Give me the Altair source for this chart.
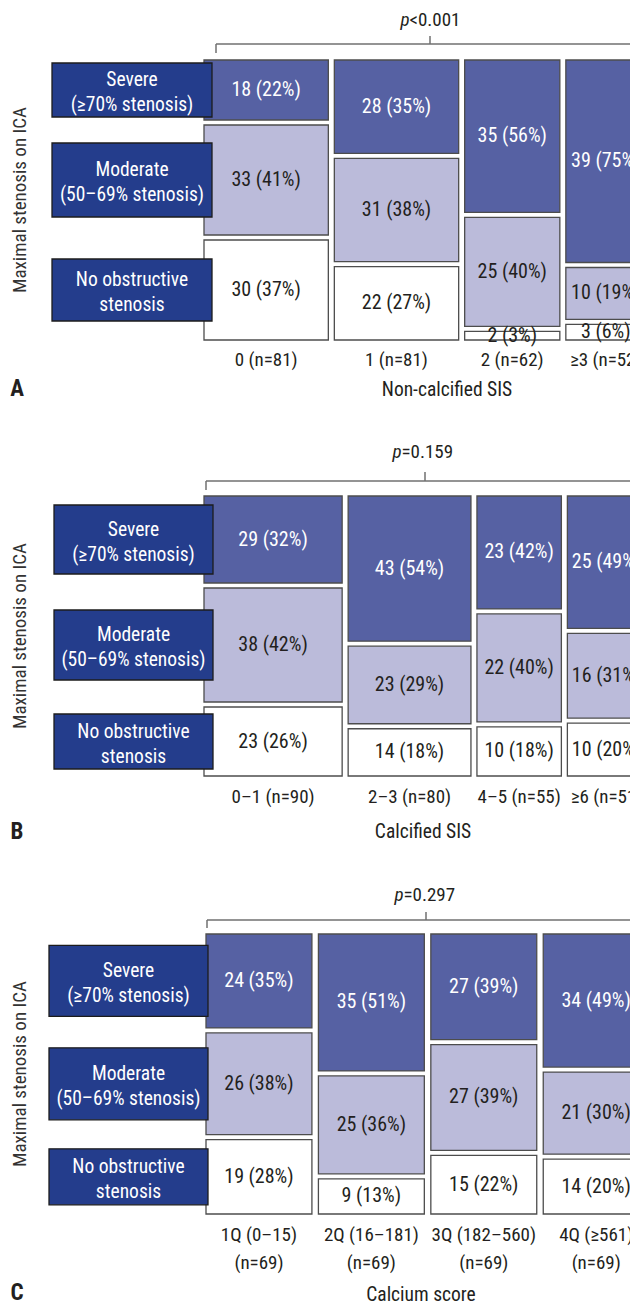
import altair as alt
import pandas as pd

# ---------------- data ----------------
levels = ["Severe", "Moderate", "None"]
level_labels = ["Severe\n(≥70% stenosis)", "Moderate\n(50–69% stenosis)", "No obstructive\nstenosis"]
y_title = "Maximal stenosis on ICA"

a_groups = ["0 (n=81)", "1 (n=81)", "2 (n=62)", "≥3 (n=52)"]
a_severe = [18, 28, 35, 39]
a_moderate = [33, 31, 25, 10]
a_none = [30, 22, 2, 3]
a_severe_pct = [22, 35, 56, 75]
a_moderate_pct = [41, 38, 40, 19]
a_none_pct = [37, 27, 3, 6]
a_pvalue = "<0.001"
a_title = "Non-calcified SIS"

b_groups = ["0–1 (n=90)", "2–3 (n=80)", "4–5 (n=55)", "≥6 (n=51)"]
b_severe = [29, 43, 23, 25]
b_moderate = [38, 23, 22, 16]
b_none = [23, 14, 10, 10]
b_severe_pct = [32, 54, 42, 49]
b_moderate_pct = [42, 29, 40, 31]
b_none_pct = [26, 18, 18, 20]
b_pvalue = "=0.159"
b_title = "Calcified SIS"

c_groups = ["1Q (0–15)\n(n=69)", "2Q (16–181)\n(n=69)", "3Q (182–560)\n(n=69)", "4Q (≥561)\n(n=69)"]
c_severe = [24, 35, 27, 34]
c_moderate = [26, 25, 27, 21]
c_none = [19, 9, 15, 14]
c_severe_pct = [35, 51, 39, 49]
c_moderate_pct = [38, 36, 39, 30]
c_none_pct = [28, 13, 22, 20]
c_pvalue = "=0.297"
c_title = "Calcium score"

# ---------------- style / layout ----------------
FONT = "Roboto Condensed, Liberation Sans Narrow, Arial Narrow, Roboto, sans-serif"
COL_SEVERE = "#5661a3"
COL_MODERATE = "#bbbbda"
COL_NONE = "#ffffff"
COL_BOX = "#243d8c"
COL_DARK = "#231f20"
COL_STROKE = "#4d4d4d"
COL_BRACKET = "#707070"

K = 1.535      # px per patient (x)
R = 270.0      # px per unit proportion (y)
GAP_Y = 5 / R
CHART_W = 622

panels = [
    dict(groups=a_groups, counts=[a_severe, a_moderate, a_none],
         pct=[a_severe_pct, a_moderate_pct, a_none_pct],
         pvalue=a_pvalue, title=a_title, letter="A",
         top=8, height=412, x0=204, col_gap=6, cell_top=60,
         box_x=(52, 212), box_h=(54, 74, 62),
         p_x=429, p_y=20, br_y=44, br_left=216, br_center=430, br_tick=9, br_ctick=8,
         lab_y=360, lab_lh=28, title_x=447, title_y=390, letter_y=389),
    dict(groups=b_groups, counts=[b_severe, b_moderate, b_none],
         pct=[b_severe_pct, b_moderate_pct, b_none_pct],
         pvalue=b_pvalue, title=b_title, letter="B",
         top=420, height=440, x0=204, col_gap=6, cell_top=496,
         box_x=(54, 213), box_h=(69, 70, 55),
         p_x=421, p_y=452, br_y=481, br_left=206, br_center=425, br_tick=9, br_ctick=9,
         lab_y=797, lab_lh=28, title_x=423, title_y=832, letter_y=832),
    dict(groups=c_groups, counts=[c_severe, c_moderate, c_none],
         pct=[c_severe_pct, c_moderate_pct, c_none_pct],
         pvalue=c_pvalue, title=c_title, letter="C",
         top=860, height=442, x0=206, col_gap=6.5, cell_top=934,
         box_x=(49, 208), box_h=(71, 72, 56),
         p_x=423, p_y=895, br_y=920, br_left=207, br_center=426, br_tick=8, br_ctick=8,
         lab_y=1235, lab_lh=28, title_x=421, title_y=1295, letter_y=1293),
]


def build(P):
    S, T = P["x0"], P["cell_top"]

    def ux(px):
        return (px - S) / K

    def vy(py):
        return (py - T) / R

    xs = alt.Scale(domain=[ux(8), ux(8 + CHART_W)], nice=False, zero=False)
    ys = alt.Scale(domain=[vy(P["top"]), vy(P["top"] + P["height"])],
                   reverse=True, nice=False, zero=False)
    X = lambda f: alt.X(f, type="quantitative", scale=xs, axis=None)
    Y = lambda f: alt.Y(f, type="quantitative", scale=ys, axis=None)

    # mosaic cells
    cells, glabels = [], []
    xpos = 0.0
    for gi, g in enumerate(P["groups"]):
        n = sum(c[gi] for c in P["counts"])
        ypos = 0.0
        for li, lev in enumerate(levels):
            cnt = P["counts"][li][gi]
            frac = cnt / n
            cells.append(dict(level=lev, x=xpos, x2=xpos + n, y=ypos, y2=ypos + frac,
                              xc=xpos + n / 2, yc=ypos + frac / 2,
                              label=f"{cnt} ({P['pct'][li][gi]}%)"))
            ypos += frac + GAP_Y
        glabels.append(dict(x=xpos + n / 2, y=vy(P["lab_y"]), label=g))
        xpos += n + P["col_gap"] / K
    cells = pd.DataFrame(cells)
    glabels = pd.DataFrame(glabels)

    rect = alt.Chart(cells).mark_rect(stroke=COL_STROKE, strokeWidth=1.3, clip=True).encode(
        x=X("x"), x2="x2", y=Y("y"), y2="y2",
        fill=alt.Fill("level:N", scale=alt.Scale(domain=levels,
                      range=[COL_SEVERE, COL_MODERATE, COL_NONE]), legend=None),
    )
    ctext = alt.Chart(cells).mark_text(font=FONT, fontSize=20, clip=True).encode(
        x=X("xc"), y=Y("yc"), text="label:N",
        color=alt.condition(alt.datum.level == "Severe", alt.value("white"), alt.value(COL_DARK)),
    )
    gtext = alt.Chart(glabels).mark_text(font=FONT, fontSize=19, color=COL_DARK,
                                         baseline="middle", lineBreak="\n",
                                         lineHeight=P["lab_lh"], clip=True).encode(
        x=X("x"), y=Y("y"), text="label:N")

    # row label boxes, centred on the first column's cells
    first = cells.iloc[0:3]
    boxes = pd.DataFrame(dict(
        label=level_labels,
        x=[ux(P["box_x"][0])] * 3, x2=[ux(P["box_x"][1])] * 3,
        xc=[ux((P["box_x"][0] + P["box_x"][1]) / 2)] * 3,
        y=[yc - h / 2 / R for yc, h in zip(first["yc"], P["box_h"])],
        y2=[yc + h / 2 / R for yc, h in zip(first["yc"], P["box_h"])],
        yc=list(first["yc"]),
    ))
    brect = alt.Chart(boxes).mark_rect(fill=COL_BOX, stroke="#1c1c1c", strokeWidth=1.3,
                                       clip=True).encode(x=X("x"), x2="x2", y=Y("y"), y2="y2")
    btext = alt.Chart(boxes).mark_text(font=FONT, fontSize=19.5, color="white", lineBreak="\n",
                                       lineHeight=25, dy=-10, clip=True).encode(
        x=X("xc"), y=Y("yc"), text="label:N")

    # bracket with p value
    bl, bc, by = ux(P["br_left"]), ux(P["br_center"]), vy(P["br_y"])
    br = pd.DataFrame(dict(
        x=[bl, bl, bc], x2=[ux(700), bl, bc],
        y=[by, by, vy(P["br_y"] - P["br_ctick"])],
        y2=[by, vy(P["br_y"] + P["br_tick"]), by],
    ))
    bracket = alt.Chart(br).mark_rule(color=COL_BRACKET, strokeWidth=1.5, clip=True).encode(
        x=X("x"), x2="x2", y=Y("y"), y2="y2")
    pj = pd.DataFrame(dict(x=[ux(P["p_x"] - 19.5)], y=[vy(P["p_y"])],
                           p=["p"], v=[P["pvalue"]]))
    ptext1 = alt.Chart(pj).mark_text(font=FONT, fontSize=19, fontStyle="italic", align="right",
                                     color=COL_DARK, clip=True).encode(x=X("x"), y=Y("y"), text="p:N")
    ptext2 = alt.Chart(pj).mark_text(font=FONT, fontSize=19, align="left", color=COL_DARK,
                                     clip=True).encode(x=X("x"), y=Y("y"), text="v:N")

    # titles
    tdf = pd.DataFrame(dict(x=[ux(P["title_x"])], y=[vy(P["title_y"])], t=[P["title"]]))
    ttext = alt.Chart(tdf).mark_text(font=FONT, fontSize=19.5, color=COL_DARK, clip=True).encode(
        x=X("x"), y=Y("y"), text="t:N")
    ldf = pd.DataFrame(dict(x=[ux(17)], y=[vy(P["letter_y"])], t=[P["letter"]]))
    ltext = alt.Chart(ldf).mark_text(font=FONT, fontSize=23, fontWeight="bold", color=COL_DARK,
                                     clip=True).encode(x=X("x"), y=Y("y"), text="t:N")
    ydf = pd.DataFrame(dict(x=[ux(20)], y=[(1 + 2 * GAP_Y) / 2], t=[y_title]))
    ytext = alt.Chart(ydf).mark_text(font=FONT, fontSize=19, angle=270, color="#333333",
                                     clip=True).encode(x=X("x"), y=Y("y"), text="t:N")

    return alt.layer(rect, ctext, gtext, brect, btext, bracket, ptext1, ptext2,
                     ttext, ltext, ytext).properties(width=CHART_W, height=P["height"])


chart = alt.vconcat(*[build(p) for p in panels], spacing=0, bounds="flush").properties(
    padding=0, background="white"
).configure_view(stroke=None)

chart.save("out.html", embed_options={"renderer": "svg", "actions": False})
